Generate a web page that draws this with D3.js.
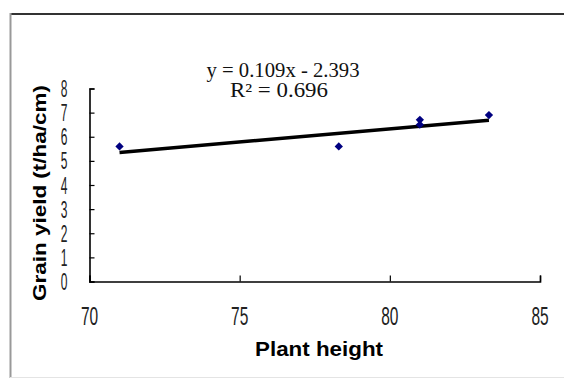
<!DOCTYPE html>
<html>
<head>
<meta charset="utf-8">
<script src="https://cdn.jsdelivr.net/npm/d3@7"></script>
<style>
  html, body { margin: 0; padding: 0; background: #fff; }
  svg { display: block; }
</style>
</head>
<body>
<svg id="chart" width="564" height="378"></svg>
<script>
// Plant height vs grain yield, with a linear trendline
const plantHeight = [71, 78.3, 81, 81, 83.3];
const grainYield  = [5.6, 5.6, 6.7, 6.5, 6.9];
const xTicks = [70, 75, 80, 85];
const yTicks = [0, 1, 2, 3, 4, 5, 6, 7, 8];
const slope = 0.109, intercept = -2.393, rSquared = 0.696;
const xTitle = "Plant height";
const yTitle = "Grain yield (t/ha/cm)";

const svg = d3.select("#chart");

// outer frame
svg.append("line").attr("x1", 10).attr("x2", 564).attr("y1", 14).attr("y2", 14)
  .attr("stroke", "#333").attr("stroke-width", 2);
svg.append("line").attr("x1", 10.5).attr("x2", 10.5).attr("y1", 13).attr("y2", 378)
  .attr("stroke", "#999").attr("stroke-width", 2);
svg.append("line").attr("x1", 10).attr("x2", 564).attr("y1", 377.5).attr("y2", 377.5)
  .attr("stroke", "#e4e4e4").attr("stroke-width", 1);

const x = d3.scaleLinear().domain([70, 85]).range([89.5, 540]);
const y = d3.scaleLinear().domain([0, 8]).range([281.5, 88.5]);

// axes with inside ticks
const xAxis = svg.append("g").attr("transform", `translate(0,${y(0)})`)
  .call(d3.axisTop(x).tickValues(xTicks).tickSize(6).tickFormat(""));
const yAxis = svg.append("g").attr("transform", `translate(${x(70)},0)`)
  .call(d3.axisRight(y).tickValues(yTicks).tickSize(5).tickFormat(""));
[xAxis, yAxis].forEach(g => {
  g.select(".domain").attr("stroke", "#000").attr("stroke-width", 1.6);
  g.selectAll(".tick line").attr("stroke", "#000").attr("stroke-width", 1.2);
});

// tick labels (narrow sans)
svg.append("g").selectAll("text").data(yTicks).join("text")
  .attr("transform", d => `translate(64,${y(d) + 8.5}) scale(0.5,1)`)
  .attr("text-anchor", "middle")
  .attr("font-family", "Liberation Sans, Arial, sans-serif")
  .attr("font-size", 24).attr("fill", "#222")
  .text(d => d);
svg.append("g").selectAll("text").data(xTicks).join("text")
  .attr("transform", d => `translate(${x(d)},${325}) scale(0.62,1)`)
  .attr("text-anchor", "middle")
  .attr("font-family", "Liberation Sans, Arial, sans-serif")
  .attr("font-size", 25).attr("fill", "#222")
  .text(d => d);

// axis titles
svg.append("text")
  .attr("x", 319).attr("y", 356)
  .attr("text-anchor", "middle")
  .attr("font-family", "Liberation Sans, Arial, sans-serif")
  .attr("font-weight", "bold").attr("font-size", 20)
  .attr("textLength", 128).attr("lengthAdjust", "spacingAndGlyphs")
  .text(xTitle);
svg.append("text")
  .attr("transform", "translate(46,193) rotate(-90)")
  .attr("text-anchor", "middle")
  .attr("font-family", "Liberation Sans, Arial, sans-serif")
  .attr("font-weight", "bold").attr("font-size", 18)
  .attr("textLength", 216).attr("lengthAdjust", "spacingAndGlyphs")
  .text(yTitle);

// linear trendline across the data range
const xExt = d3.extent(plantHeight);
const trend = xExt.map(v => [v, slope * v + intercept]);
svg.append("path")
  .attr("d", d3.line().x(d => x(d[0])).y(d => y(d[1]))(trend))
  .attr("stroke", "#000").attr("stroke-width", 3.5).attr("fill", "none");

// data points
const diamond = d3.symbol().type(d3.symbolDiamond2 || d3.symbolSquare).size(44);
svg.append("g").selectAll("path").data(plantHeight.map((v, i) => [v, grainYield[i]]))
  .join("path")
  .attr("d", diamond)
  .attr("transform", d => `translate(${x(d[0])},${y(d[1])})` + (d3.symbolDiamond2 ? "" : " rotate(45)"))
  .attr("fill", "#000080");

// regression equation
const eq = svg.append("g")
  .attr("font-family", "Liberation Serif, Times New Roman, serif")
  .attr("font-size", 20).attr("fill", "#111")
  .attr("text-anchor", "middle");
eq.append("text").attr("x", 283).attr("y", 77)
  .attr("textLength", 153).attr("lengthAdjust", "spacingAndGlyphs")
  .text(`y = ${slope}x - ${Math.abs(intercept)}`);
eq.append("text").attr("x", 279).attr("y", 97)
  .attr("textLength", 98).attr("lengthAdjust", "spacingAndGlyphs")
  .text(`R² = ${rSquared}`);
</script>
</body>
</html>
